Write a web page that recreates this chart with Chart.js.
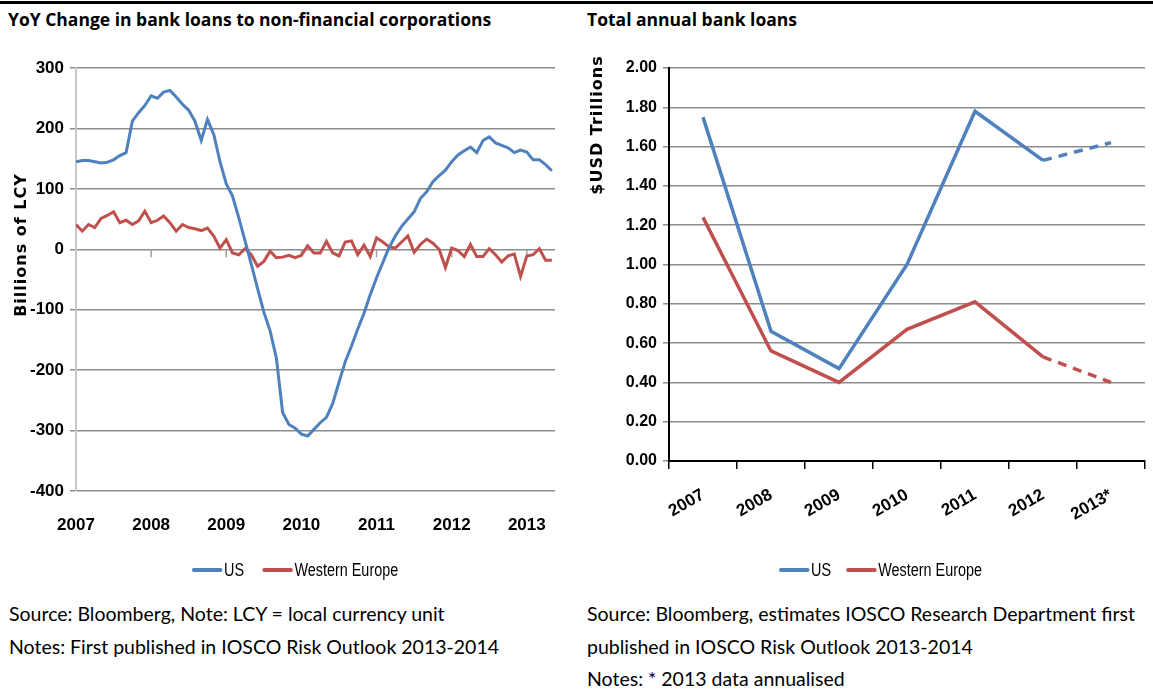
<!DOCTYPE html>
<html>
<head>
<meta charset="utf-8">
<script src="https://cdn.jsdelivr.net/npm/chart.js@4.4.0/dist/chart.umd.min.js"></script>
<style>
  body { margin: 0; background: #fff; }
  #page { position: relative; width: 1153px; height: 693px; overflow: hidden; background: #fff; }
  .rule { position: absolute; left: 0; top: 1px; width: 1153px; height: 3px; background: #000; }
  .ttl { position: absolute; top: 7px; font-family: 'Open Sans', sans-serif; font-weight: bold; font-size: 17.5px; color: #000; white-space: nowrap; }
  .note { position: absolute; font-family: Lato, sans-serif; font-size: 19.5px; color: #000; white-space: nowrap; }
  .legend { position: absolute; top: 559px; font-family: 'Liberation Sans', sans-serif; font-size: 18px; color: #000; white-space: nowrap; transform: scaleX(0.8); transform-origin: 0 50%; }
  .legend span.box { display: inline-block; width: 38px; height: 4px; vertical-align: middle; margin-right: 2px; border-radius: 2px; }
  .legend span.txt { vertical-align: middle; margin-right: 23px; }
  canvas { position: absolute; }
</style>
</head>
<body>
<div id="page">
  <div class="rule"></div>
  <div class="ttl" style="left:8px">YoY Change in bank loans to non-financial corporations</div>
  <div class="ttl" style="left:587px">Total annual bank loans</div>

  <div id="c1wrap" style="position:absolute;left:0;top:40px;width:580px;height:520px"><canvas id="chartYoY"></canvas></div>
  <div id="c2wrap" style="position:absolute;left:580px;top:40px;width:573px;height:520px"><canvas id="chartAnnual"></canvas></div>

  <div class="legend" style="left:192px"><span class="box" style="background:#4f81bd"></span><span class="txt">US</span><span class="box" style="background:#c0504d"></span><span class="txt">Western Europe</span></div>
  <div class="legend" style="left:779px"><span class="box" style="background:#4f81bd"></span><span class="txt" style="margin-right:19px">US</span><span class="box" style="background:#c0504d"></span><span class="txt">Western Europe</span></div>

  <div class="note" style="left:9px;top:602px">Source: Bloomberg, Note: LCY = local currency unit</div>
  <div class="note" style="left:9px;top:635px">Notes: First published in IOSCO Risk Outlook 2013-2014</div>
  <div class="note" style="left:587px;top:602px">Source: Bloomberg, estimates IOSCO Research Department first</div>
  <div class="note" style="left:587px;top:635px">published in IOSCO Risk Outlook 2013-2014</div>
  <div class="note" style="left:587px;top:667px">Notes: * 2013 data annualised</div>
</div>

<script>
// Etiquetas de anios (eje x del grafico mensual)
const yearLabels = ['2007', '2008', '2009', '2010', '2011', '2012', '2013'];

// Variacion interanual mensual, ene 2007 - may 2013 (miles de millones LCY)
const usYoY = [145, 147, 147, 145, 143, 144, 148, 155, 160, 212, 226, 238,
  254, 250, 260, 263, 252, 240, 230, 212, 180, 215, 190, 145,
  108, 88, 52, 14, -25, -65, -104, -135, -180, -270, -290, -296,
  -306, -309, -298, -287, -278, -255, -220, -186, -160, -132, -106, -75,
  -47, -22, 3, 22, 38, 50, 62, 84, 95, 112, 122, 131,
  145, 156, 163, 169, 160, 180, 186, 176, 172, 168, 160, 164,
  161, 148, 148, 140, 130];
const weYoY = [41, 30, 41, 36, 51, 56, 62, 44, 48, 41, 47, 63,
  44, 48, 55, 44, 30, 41, 36, 34, 31, 35, 22, 2,
  16, -6, -9, 1, -9, -28, -20, -3, -14, -13, -10, -14,
  -10, 6, -6, -6, 13, -6, -11, 12, 14, -9, 7, -12,
  19, 12, 4, 2, 12, 22, -5, 8, 17, 10, 0, -30,
  2, -2, -12, 8, -12, -12, 1, -9, -21, -11, -8, -45,
  -11, -9, 1, -18, -18];

// Prestamos anuales totales (billones USD)
const annualLabels = ['2007', '2008', '2009', '2010', '2011', '2012', '2013*'];
const usAnnual = [1.75, 0.66, 0.47, 1.00, 1.78, 1.53, 1.62];
const weAnnual = [1.24, 0.56, 0.40, 0.67, 0.81, 0.53, 0.40];

const azul = '#4f81bd';
const rojo = '#c0504d';
const tickFont = { family: "'Liberation Sans', sans-serif", weight: 'bold', size: 17 };

// Titulo vertical del eje y dibujado a mano (posicion fija como en el original)
const tituloEje = {
  id: 'tituloEje',
  afterDraw(chart, args, opts) {
    const ctx = chart.ctx;
    ctx.save();
    ctx.translate(opts.x, opts.y);
    ctx.rotate(-Math.PI / 2);
    ctx.font = "bold 16px 'DejaVu Sans', sans-serif";
    ctx.letterSpacing = '1px';
    ctx.fillStyle = '#000';
    ctx.textAlign = 'center';
    ctx.textBaseline = 'middle';
    ctx.fillText(opts.text, 0, 0);
    ctx.restore();
  }
};

// Marcas pequenas sobre la linea de cero en cada anio
const marcasCero = {
  id: 'marcasCero',
  beforeDatasetsDraw(chart) {
    const x = chart.scales.x, y = chart.scales.y;
    const y0 = y.getPixelForValue(0);
    const ctx = chart.ctx;
    ctx.save();
    ctx.strokeStyle = '#a0a0a0';
    ctx.lineWidth = 1.5;
    for (let i = 1; i < yearLabels.length; i++) {
      const px = x.getPixelForValue(i * 12);
      ctx.beginPath();
      ctx.moveTo(px, y0);
      ctx.lineTo(px, y0 + 8);
      ctx.stroke();
    }
    ctx.restore();
  }
};

new Chart(document.getElementById('chartYoY'), {
  type: 'line',
  data: {
    datasets: [{
      label: 'US',
      data: usYoY.map((v, i) => ({ x: i, y: v })),
      borderColor: azul,
      borderWidth: 3,
      pointRadius: 0,
      tension: 0
    }, {
      label: 'Western Europe',
      data: weYoY.map((v, i) => ({ x: i, y: v })),
      borderColor: rojo,
      borderWidth: 3,
      pointRadius: 0,
      tension: 0
    }]
  },
  options: {
    responsive: true,
    maintainAspectRatio: false,
    animation: false,
    layout: { padding: { left: 0, right: 25, top: 28, bottom: 8 } },
    plugins: {
      legend: { display: false },
      tooltip: { enabled: false },
      tituloEje: { text: 'Billions of LCY', x: 22, y: 205 }
    },
    scales: {
      x: {
        type: 'linear',
        min: 0,
        max: 76.5,
        grid: { display: false },
        border: { display: false },
        afterBuildTicks(s) { s.ticks = yearLabels.map((_, i) => ({ value: i * 12 })); },
        ticks: {
          autoSkip: false,
          maxRotation: 0,
          padding: 16,
          color: '#000',
          font: tickFont,
          callback: v => yearLabels[v / 12]
        },
        afterFit(s) { s.height = 61; }
      },
      y: {
        min: -400,
        max: 300,
        grid: { color: '#8c8c8c', lineWidth: 1.5, tickLength: 6 },
        border: { color: '#c8c8c8', width: 2 },
        ticks: { stepSize: 100, padding: 6, color: '#000', font: tickFont },
        afterFit(s) { s.width = 76; }
      }
    }
  },
  plugins: [tituloEje, marcasCero]
});

new Chart(document.getElementById('chartAnnual'), {
  type: 'line',
  data: {
    labels: annualLabels,
    datasets: [{
      label: 'US',
      data: usAnnual,
      borderColor: azul,
      borderWidth: 3.5,
      pointRadius: 0,
      tension: 0,
      segment: { borderDash: c => (c.p1DataIndex === annualLabels.length - 1 ? [9, 7] : undefined) }
    }, {
      label: 'Western Europe',
      data: weAnnual,
      borderColor: rojo,
      borderWidth: 3.5,
      pointRadius: 0,
      tension: 0,
      segment: { borderDash: c => (c.p1DataIndex === annualLabels.length - 1 ? [9, 7] : undefined) }
    }]
  },
  options: {
    responsive: true,
    maintainAspectRatio: false,
    animation: false,
    layout: { padding: { left: 0, right: 8, top: 28, bottom: 8 } },
    plugins: {
      legend: { display: false },
      tooltip: { enabled: false },
      tituloEje: { text: '$USD Trillions', x: 18, y: 85 }
    },
    scales: {
      x: {
        offset: true,
        grid: { offset: true, drawOnChartArea: false, color: '#000', lineWidth: 1.5, tickLength: 8 },
        border: { color: '#000', width: 2 },
        ticks: {
          minRotation: 30,
          maxRotation: 30,
          padding: 16,
          color: '#000',
          font: { ...tickFont, size: 17 }
        },
        afterFit(s) { s.height = 91; }
      },
      y: {
        min: 0,
        max: 2,
        grid: { color: '#8c8c8c', lineWidth: 1.5, tickLength: 6 },
        border: { color: '#000', width: 2 },
        ticks: { stepSize: 0.2, padding: 6, color: '#000', font: { ...tickFont, size: 16 }, callback: v => v.toFixed(2) },
        afterFit(s) { s.width = 89; }
      }
    }
  },
  plugins: [tituloEje]
});
</script>
</body>
</html>
